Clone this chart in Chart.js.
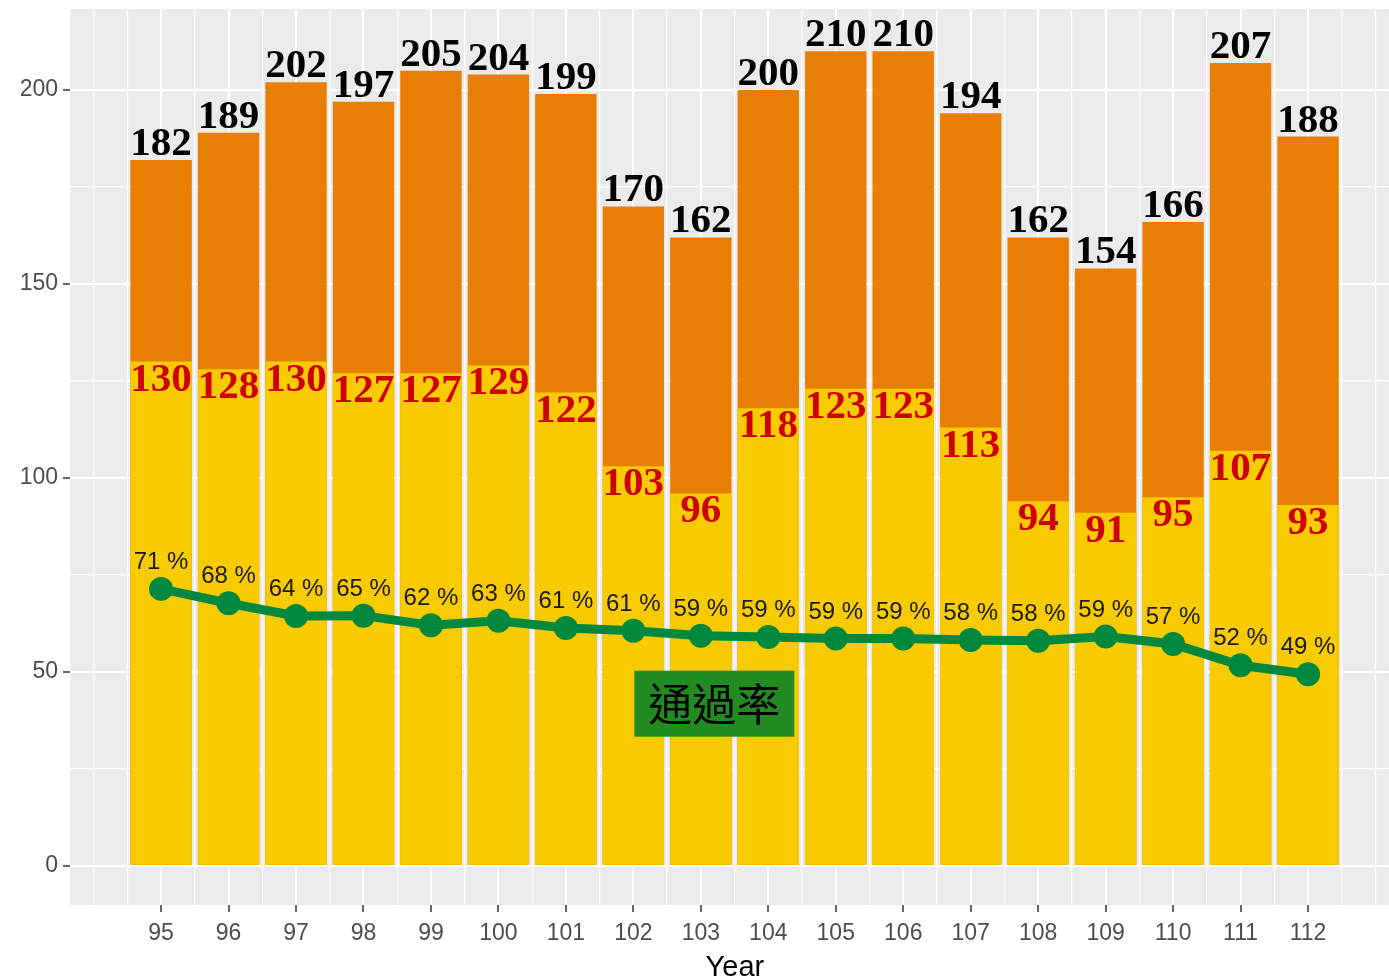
<!DOCTYPE html>
<html>
<head>
<meta charset="utf-8">
<script src="https://cdn.jsdelivr.net/npm/chart.js@4.4.1/dist/chart.umd.min.js"></script>
<style>
  html, body { margin: 0; padding: 0; background: #fff; overflow: hidden; width: 1389px; height: 980px; }
  canvas { display: block; }
</style>
</head>
<body>
<canvas id="chartPass" width="1389" height="980" style="width:1389px;height:980px"></canvas>
<script>
// --- Data ---
const years   = [95, 96, 97, 98, 99, 100, 101, 102, 103, 104, 105, 106, 107, 108, 109, 110, 111, 112];
const totals  = [182, 189, 202, 197, 205, 204, 199, 170, 162, 200, 210, 210, 194, 162, 154, 166, 207, 188];
const passed  = [130, 128, 130, 127, 127, 129, 122, 103, 96, 118, 123, 123, 113, 94, 91, 95, 107, 93];
const rates   = [71.4, 67.7, 64.4, 64.5, 62.0, 63.2, 61.3, 60.6, 59.3, 59.0, 58.6, 58.6, 58.2, 58.0, 59.1, 57.2, 51.7, 49.4];
const yMajor  = [0, 50, 100, 150, 200];
const yMinor  = [25, 75, 125, 175];
const xMinor  = [94, 94.5, 95.5, 96.5, 97.5, 98.5, 99.5, 100.5, 101.5, 102.5, 103.5, 104.5, 105.5, 106.5, 107.5, 108.5, 109.5, 110.5, 111.5, 112.5, 113];
const rateTag = { text: '通過率', x: 103.2, y: 41.8 };

// panel runs 93.65..113.36 in the original, the picture is cut at 113.2
const X_MIN = 93.65, X_MAX = 113.2, X_FULL_MAX = 113.36;

const ORANGE = '#E87E04';
const YELLOW = '#F7CB00';
const GREEN  = '#00883F';
const AXIS_TXT = '#4D4D4D';

// --- Plugins ---
const panelBg = {
  id: 'panelBg',
  beforeDraw(chart) {
    const { ctx, chartArea: a } = chart;
    ctx.save();
    ctx.fillStyle = '#EBEBEB';
    ctx.fillRect(a.left, a.top, a.right - a.left, a.bottom - a.top);
    ctx.restore();
  },
};

const valueLabels = {
  id: 'valueLabels',
  afterDatasetsDraw(chart) {
    const { ctx } = chart;
    const xs = chart.scales.x, ys = chart.scales.y;
    ctx.save();
    ctx.textAlign = 'center';
    ctx.textBaseline = 'alphabetic';
    years.forEach((yr, i) => {
      const px = xs.getPixelForValue(yr);
      // totals above orange bar
      ctx.font = 'bold 41px "Liberation Serif", "Times New Roman", serif';
      ctx.fillStyle = '#000';
      ctx.fillText(String(totals[i]), px, ys.getPixelForValue(totals[i]) - 5);
      // passed count under the split
      ctx.fillStyle = '#CD0000';
      ctx.fillText(String(passed[i]), px, ys.getPixelForValue(passed[i]) + 29);
      // pass rate above point
      ctx.font = '24px "Liberation Sans", Arial, sans-serif';
      ctx.fillStyle = '#1A1A1A';
      ctx.fillText(Math.round(rates[i]) + ' %', px, ys.getPixelForValue(rates[i]) - 20);
    });

    // green tag box
    const cx = xs.getPixelForValue(rateTag.x), cy = ys.getPixelForValue(rateTag.y);
    ctx.fillStyle = '#228B22';
    ctx.fillRect(cx - 80, cy - 33, 160, 66);
    ctx.font = '44px "Noto Sans CJK TC", "Noto Sans CJK SC", sans-serif';
    ctx.fillStyle = '#000';
    ctx.textBaseline = 'middle';
    ctx.fillText(rateTag.text, cx, cy + 1);

    // axis title, centred on the full (uncut) panel
    const tx = xs.getPixelForValue((X_MIN + X_FULL_MAX) / 2);
    ctx.font = '29px "Liberation Sans", Arial, sans-serif';
    ctx.textBaseline = 'alphabetic';
    ctx.fillText('Year', tx, chart.height - 4);
    ctx.restore();
  },
};

// --- Chart ---
const pts = (arr) => years.map((x, i) => ({ x, y: arr[i] }));
const isYMajor = (v) => yMajor.includes(v);
const isXMajor = (v) => years.includes(v);

// ticks sit every half year, so the bar ruler is half a year wide: 1.82 -> 0.91 of a year
const BAR_PCT = 1.82;

new Chart(document.getElementById('chartPass'), {
  type: 'bar',
  data: {
    datasets: [
      {
        type: 'line',
        label: '通過率',
        data: pts(rates),
        borderColor: GREEN,
        backgroundColor: GREEN,
        borderWidth: 9,
        pointRadius: 12,
        pointBorderWidth: 0,
        tension: 0,
        order: 0,
      },
      {
        label: '通過',
        data: pts(passed),
        backgroundColor: YELLOW,
        grouped: false,
        categoryPercentage: 1,
        barPercentage: BAR_PCT,
        order: 1,
      },
      {
        label: '總數',
        data: pts(totals),
        backgroundColor: ORANGE,
        grouped: false,
        categoryPercentage: 1,
        barPercentage: BAR_PCT,
        order: 2,
      },
    ],
  },
  options: {
    responsive: false,
    devicePixelRatio: 1,
    animation: false,
    layout: { autoPadding: false, padding: { top: 9, left: 0, right: 0, bottom: 0 } },
    plugins: { legend: { display: false }, tooltip: { enabled: false } },
    scales: {
      x: {
        type: 'linear',
        offset: false,
        min: X_MIN,
        max: X_MAX,
        afterBuildTicks: (s) => {
          s.ticks = years.concat(xMinor).sort((a, b) => a - b).map(v => ({ value: v }));
        },
        afterFit: (s) => { s.height = 75; s.paddingLeft = 0; s.paddingRight = 0; },
        border: { display: false },
        grid: {
          offset: false,
          color: '#FFFFFF',
          lineWidth: (c) => (c.tick && isXMajor(c.tick.value) ? 2 : 1.2),
          tickColor: (c) => (c.tick && isXMajor(c.tick.value) ? '#333333' : 'rgba(0,0,0,0)'),
          tickWidth: 1.5,
          tickLength: 7,
        },
        ticks: {
          autoSkip: false,
          maxRotation: 0,
          padding: 8,
          color: AXIS_TXT,
          font: { family: '"Liberation Sans", Arial, sans-serif', size: 23 },
          callback: (v) => (isXMajor(v) ? String(v) : ''),
        },
        title: { display: false },
      },
      y: {
        min: -10.1,
        max: 220.9,
        afterBuildTicks: (s) => {
          s.ticks = yMajor.concat(yMinor).sort((a, b) => a - b).map(v => ({ value: v }));
        },
        afterFit: (s) => { s.width = 70; s.paddingTop = 0; s.paddingBottom = 0; },
        border: { display: false },
        grid: {
          color: '#FFFFFF',
          lineWidth: (c) => (c.tick && isYMajor(c.tick.value) ? 2 : 1.2),
          tickColor: (c) => (c.tick && isYMajor(c.tick.value) ? '#333333' : 'rgba(0,0,0,0)'),
          tickWidth: 1.5,
          tickLength: 7,
        },
        ticks: {
          padding: 5,
          color: AXIS_TXT,
          font: { family: '"Liberation Sans", Arial, sans-serif', size: 23 },
          callback: (v) => (isYMajor(v) ? String(v) : ''),
        },
      },
    },
  },
  plugins: [panelBg, valueLabels],
});
</script>
</body>
</html>
